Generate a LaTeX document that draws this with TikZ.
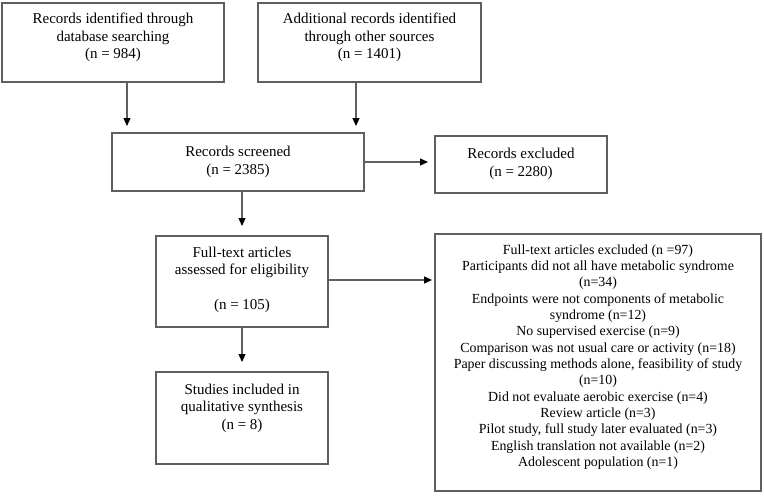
\documentclass[tikz,border=0pt]{standalone}
\usepackage{fontspec}
\setmainfont{Liberation Serif}
\usetikzlibrary{arrows.meta}
\definecolor{edge}{RGB}{95,95,95}
\begin{document}
\begin{tikzpicture}[x=1pt,y=-1pt,
  box/.style={draw=edge, line width=1.3pt, inner sep=0pt, outer sep=0pt, fill=none},
  txt/.style={align=center, inner sep=0pt, font=\fontsize{15}{17.5}\selectfont},
  smalltxt/.style={align=center, inner sep=0pt, font=\fontsize{13.9}{16.35}\selectfont},
  flow/.style={draw=edge, line width=1.1pt, -{Triangle[length=8pt,width=7pt,color=black]}, shorten >=#1},
  flow/.default=7pt]
\useasboundingbox (0,0) rectangle (764,496);
% boxes
\node[box, minimum width=222pt, minimum height=79pt] (b1) at (113,42.5) {};
\node[box, minimum width=223pt, minimum height=79pt] (b2) at (369.5,42.5) {};
\node[box, minimum width=252pt, minimum height=58pt] (b3) at (238,162) {};
\node[box, minimum width=172pt, minimum height=57pt] (b4) at (521,164.5) {};
\node[box, minimum width=172pt, minimum height=91pt] (b5) at (242,281.5) {};
\node[box, minimum width=326pt, minimum height=257pt] (b6) at (598,362.5) {};
\node[box, minimum width=172pt, minimum height=92pt] (b7) at (242,418) {};
% texts
\node[txt] (t1) at (113,37.5) {Records identified through\\database searching\\(n = 984)};
\node[txt] (t2) at (369.5,37.5) {Additional records identified\\through other sources\\(n = 1401)};
\node[txt] (t3) at (238,162) {Records screened\\(n = 2385)};
\node[txt] (t4) at (521,164) {Records excluded\\(n = 2280)};
\node[txt] (t5) at (242,280) {Full-text articles\\assessed for eligibility\\[17.5pt](n = 105)};
\node[smalltxt] (t6) at (598,357) {Full-text articles excluded (n =97)\\
Participants did not all have metabolic syndrome\\
(n=34)\\
Endpoints were not components of metabolic\\
syndrome (n=12)\\
No supervised exercise (n=9)\\
Comparison was not usual care or activity (n=18)\\
Paper discussing methods alone, feasibility of study\\
(n=10)\\
Did not evaluate aerobic exercise (n=4)\\
Review article (n=3)\\
Pilot study, full study later evaluated (n=3)\\
English translation not available (n=2)\\
Adolescent population (n=1)};
\node[txt] (t7) at (242,408) {Studies included in\\qualitative synthesis\\(n = 8)};
% connectors
\draw[flow] ([xshift=14pt]b1.south) -- ([xshift=14pt]b1.south |- b3.north);
\draw[flow] ([xshift=-13.5pt]b2.south) -- ([xshift=-13.5pt]b2.south |- b3.north);
\draw[flow] (b3.east) -- (b3.east -| b4.west);
\draw[flow=10pt] (b5.north |- b3.south) -- (b5.north);
\draw[flow=3pt] ([yshift=1.5pt]b5.east) -- ([yshift=1.5pt]b5.east -| b6.west);
\draw[flow=10pt] (b5.south) -- (b7.north);
\end{tikzpicture}
\end{document}
